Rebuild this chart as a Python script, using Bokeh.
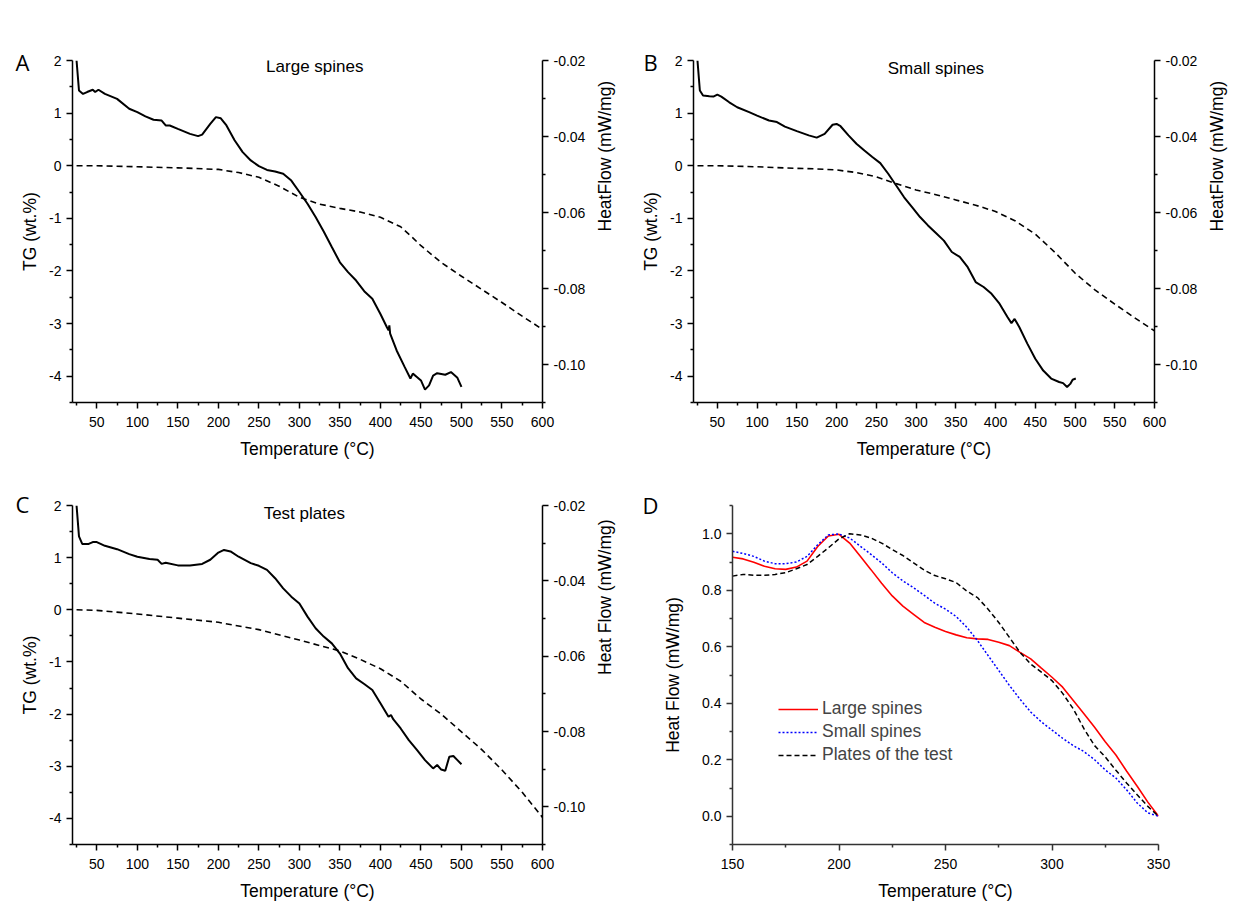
import math
from bokeh.plotting import figure
from bokeh.models import Range1d, LinearAxis, FixedTicker, PrintfTickFormatter, Label, Legend, LegendItem
from bokeh.layouts import row, column
from bokeh.embed import file_html
from bokeh.resources import INLINE

FONT = "Liberation Sans"

# ---------------- Data ----------------
# Panel A - Large spines
A_HF_T = [25, 28, 33, 38, 45, 48, 52, 60, 75, 90, 100, 110, 120, 130, 135, 140, 150, 165, 175, 180,
          190, 197, 203, 210, 220, 230, 240, 250, 260, 270, 280, 290, 300, 310, 320, 330, 340, 350, 360, 370,
          380, 390, 400, 408, 410, 411, 412, 420, 430, 437, 440, 445, 450, 455, 460, 465, 470, 480, 487, 495, 500]
A_HF = [-0.0200, -0.0279, -0.0288, -0.0283, -0.0277, -0.0283, -0.0277, -0.0288, -0.0301, -0.0327,
        -0.0336, -0.0347, -0.0356, -0.0358, -0.0371, -0.0371, -0.0380, -0.0393, -0.0399, -0.0395,
        -0.0367, -0.0349, -0.0352, -0.0371, -0.0410, -0.0441, -0.0463, -0.0478, -0.0488, -0.0492,
        -0.0498, -0.0516, -0.0546, -0.0577, -0.0612, -0.0650, -0.0691, -0.0731, -0.0757, -0.0779,
        -0.0807, -0.0827, -0.0867, -0.0902, -0.0910, -0.0897, -0.0919, -0.0963, -0.1007, -0.1037,
        -0.1024, -0.1033, -0.1042, -0.1066, -0.1055, -0.1029, -0.1023, -0.1027, -0.1020, -0.1035, -0.1059]
A_TG_T = [25, 50, 100, 150, 200, 225, 250, 275, 300, 325, 350, 375, 400, 425, 440, 450, 475, 500, 525, 550, 575, 600]
A_TG = [0.0, 0.0, -0.02, -0.04, -0.07, -0.13, -0.22, -0.39, -0.6, -0.73, -0.81, -0.88, -0.98, -1.16, -1.37, -1.52,
        -1.84, -2.1, -2.35, -2.6, -2.86, -3.11]

# Panel B - Small spines
B_HF_T = [25, 28, 32, 40, 45, 50, 55, 65, 75, 90, 100, 115, 125, 135, 150, 165, 175, 185, 195, 200,
          205, 215, 225, 235, 245, 255, 265, 275, 285, 295, 305, 315, 325, 335, 345, 355, 365, 375, 385, 395,
          405, 415, 420, 424, 430, 440, 450, 460, 470, 480, 485, 490, 494, 497, 501]
B_HF = [-0.0200, -0.0279, -0.0292, -0.0294, -0.0295, -0.0290, -0.0295, -0.0310, -0.0323, -0.0336,
        -0.0345, -0.0358, -0.0362, -0.0374, -0.0386, -0.0397, -0.0403, -0.0393, -0.0369, -0.0367,
        -0.0373, -0.0397, -0.0419, -0.0437, -0.0454, -0.0470, -0.0498, -0.0529, -0.0560, -0.0586,
        -0.0612, -0.0634, -0.0654, -0.0674, -0.0704, -0.0717, -0.0744, -0.0783, -0.0796, -0.0814,
        -0.0840, -0.0875, -0.0891, -0.0880, -0.0902, -0.0945, -0.0985, -0.1016, -0.1037, -0.1046,
        -0.1049, -0.1059, -0.1051, -0.1040, -0.1037]
B_TG_T = [25, 50, 100, 150, 175, 200, 225, 250, 275, 300, 325, 350, 375, 400, 425, 450, 475, 500, 525, 550, 575, 600]
B_TG = [0.0, 0.0, -0.02, -0.05, -0.06, -0.08, -0.13, -0.21, -0.34, -0.46, -0.55, -0.65, -0.75, -0.87, -1.05,
        -1.3, -1.65, -2.04, -2.36, -2.63, -2.89, -3.14]

# Panel C - Test plates
C_HF_T = [25, 28, 32, 40, 45, 50, 60, 75, 90, 100, 115, 125, 130, 135, 150, 165, 180, 190, 200, 207,
          215, 225, 240, 250, 260, 270, 280, 290, 300, 310, 320, 330, 340, 350, 360, 370, 380, 390, 400, 410,
          413, 416, 425, 435, 445, 455, 465, 470, 475, 480, 485, 490, 495, 500]
C_HF = [-0.0200, -0.0282, -0.0302, -0.0302, -0.0297, -0.0297, -0.0307, -0.0316, -0.0329, -0.0336,
        -0.0342, -0.0344, -0.0355, -0.0352, -0.0359, -0.0359, -0.0355, -0.0344, -0.0325, -0.0318,
        -0.0322, -0.0336, -0.0353, -0.0360, -0.0371, -0.0393, -0.0420, -0.0442, -0.0460, -0.0495,
        -0.0526, -0.0548, -0.0566, -0.0593, -0.0632, -0.0659, -0.0674, -0.0690, -0.0725, -0.0761,
        -0.0756, -0.0768, -0.0792, -0.0823, -0.0849, -0.0876, -0.0898, -0.0889, -0.0901, -0.0904,
        -0.0867, -0.0865, -0.0876, -0.0887]
C_TG_T = [25, 50, 100, 150, 200, 250, 300, 350, 375, 400, 425, 450, 475, 500, 525, 550, 575, 600]
C_TG = [0.0, -0.01, -0.08, -0.16, -0.24, -0.38, -0.58, -0.79, -0.95, -1.13, -1.37, -1.71, -2.0, -2.34, -2.68,
        -3.07, -3.5, -3.98]

# Panel D - normalised heat flow
D_T = [150, 155, 160, 165, 170, 175, 180, 185, 190, 195, 200, 205, 210, 215, 220, 225, 230, 235, 240, 245,
       250, 255, 260, 265, 270, 275, 280, 285, 290, 295, 300, 305, 310, 315, 320, 325, 330, 335, 340, 345, 350]
D_LARGE = [0.917, 0.911, 0.899, 0.885, 0.876, 0.874, 0.882, 0.903, 0.955, 0.992, 0.998, 0.967, 0.92, 0.873,
           0.825, 0.78, 0.744, 0.715, 0.686, 0.669, 0.654, 0.642, 0.632, 0.628, 0.626, 0.616, 0.604, 0.58,
           0.557, 0.524, 0.492, 0.457, 0.41, 0.363, 0.315, 0.264, 0.217, 0.16, 0.106, 0.05, 0.0]
D_SMALL = [0.938, 0.93, 0.92, 0.903, 0.894, 0.894, 0.9, 0.92, 0.961, 0.996, 0.999, 0.985, 0.956, 0.927,
           0.897, 0.862, 0.833, 0.809, 0.782, 0.754, 0.733, 0.707, 0.669, 0.622, 0.569, 0.516, 0.463, 0.414,
           0.369, 0.334, 0.305, 0.276, 0.25, 0.229, 0.2, 0.164, 0.135, 0.094, 0.047, 0.012, 0.0]
D_PLATES = [0.85, 0.856, 0.853, 0.853, 0.856, 0.862, 0.876, 0.891, 0.92, 0.95, 0.982, 1.0, 0.996, 0.985,
            0.967, 0.944, 0.923, 0.897, 0.871, 0.852, 0.841, 0.827, 0.797, 0.774, 0.733, 0.686, 0.633, 0.58,
            0.539, 0.51, 0.48, 0.435, 0.38, 0.31, 0.25, 0.21, 0.163, 0.118, 0.076, 0.035, 0.0]

X_TICKS = [50, 100, 150, 200, 250, 300, 350, 400, 450, 500, 550, 600]
X_MINOR = [25, 75, 125, 175, 225, 275, 325, 375, 425, 475, 525, 575]
TG_TICKS = [2, 1, 0, -1, -2, -3, -4]
TG_MINOR = [1.5, 0.5, -0.5, -1.5, -2.5, -3.5, -4.5]
HF_TICKS = [-0.02, -0.04, -0.06, -0.08, -0.10]
HF_MINOR = [-0.03, -0.05, -0.07, -0.09, -0.11]
D_X_TICKS = [150, 200, 250, 300, 350]
D_X_MINOR = [175, 225, 275, 325]
D_Y_TICKS = [0.0, 0.2, 0.4, 0.6, 0.8, 1.0]
D_Y_MINOR = [-0.1, 0.1, 0.3, 0.5, 0.7, 0.9, 1.1]


def style_axis(ax, ticks, minor, fmt, label, color="black", lab_standoff=5, ax_standoff=10):
    ax.ticker = FixedTicker(ticks=ticks, minor_ticks=minor)
    ax.formatter = PrintfTickFormatter(format=fmt)
    ax.axis_label = label
    ax.major_tick_in = 0
    ax.major_tick_out = 6
    ax.minor_tick_in = 0
    ax.minor_tick_out = 3
    ax.axis_line_color = color
    ax.major_tick_line_color = color
    ax.minor_tick_line_color = color
    ax.axis_line_width = 1.5
    ax.major_tick_line_width = 1.5
    ax.minor_tick_line_width = 1.5
    ax.major_label_text_font = FONT
    ax.major_label_text_font_size = "14px"
    ax.major_label_text_color = "black"
    ax.major_label_standoff = lab_standoff
    ax.axis_label_text_font = FONT
    ax.axis_label_text_font_size = "17.5px"
    ax.axis_label_text_font_style = "normal"
    ax.axis_label_text_color = "black"
    ax.axis_label_standoff = ax_standoff


def base_fig(width, height, xr, yr, ml, mr, mt, mb, letter, l_off, l_stand):
    p = figure(width=width, height=height, x_range=Range1d(*xr), y_range=Range1d(*yr),
               output_backend="svg", toolbar_location=None, tools="",
               min_border_left=ml, min_border_right=mr, min_border_top=mt, min_border_bottom=mb)
    p.outline_line_color = None
    p.xgrid.visible = False
    p.ygrid.visible = False
    p.background_fill_color = "white"
    p.border_fill_color = "white"
    # panel letter as the figure title, pushed left of the frame
    p.title.text = letter
    p.title.align = "left"
    p.title.offset = l_off
    p.title.standoff = l_stand
    p.title.text_font = "Open Sans"
    p.title.text_font_size = "22px"
    p.title.text_font_style = "normal"
    p.title.text_color = "black"
    return p


def tg_panel(letter, l_off, l_stand, title, tx, ty, hf_t, hf, tg_t, tg, right_label,
             width, ml, mr, mt, mb, height):
    p = base_fig(width, height, (20, 600), (-4.5, 2), ml, mr, mt, mb, letter, l_off, l_stand)
    p.extra_y_ranges = {"hf": Range1d(-0.11, -0.02)}
    style_axis(p.xaxis[0], X_TICKS, X_MINOR, "%d", "Temperature (\u00b0C)", lab_standoff=8, ax_standoff=9)
    style_axis(p.yaxis[0], TG_TICKS, TG_MINOR, "%d", "TG (wt.%)", lab_standoff=5, ax_standoff=6)
    ra = LinearAxis(y_range_name="hf")
    style_axis(ra, HF_TICKS, HF_MINOR, "%.2f", right_label, lab_standoff=5, ax_standoff=17)
    ra.axis_label_orientation = math.pi / 2
    p.add_layout(ra, "right")
    p.line(tg_t, tg, line_color="black", line_width=1.6, line_dash="6 4")
    p.line(hf_t, hf, line_color="black", line_width=2, y_range_name="hf")
    p.add_layout(Label(x=tx, y=ty, text=title, text_font=FONT, text_font_size="17px",
                       text_align="center", text_baseline="middle", text_color="black"))
    return p


pA = tg_panel("A", -57, -32, "Large spines", 319, 1.89, A_HF_T, A_HF, A_TG_T, A_TG, "HeatFlow (mW/mg)",
              629, 72, 87, 60, 68, 470)
pB = tg_panel("B", -50, -32, "Small spines", 325, 1.85, B_HF_T, B_HF, B_TG_T, B_TG, "HeatFlow (mW/mg)",
              611, 64, 77, 60, 68, 470)
pC = tg_panel("C", -57, -27, "Test plates", 306, 1.85, C_HF_T, C_HF, C_TG_T, C_TG, "Heat Flow (mW/mg)",
              629, 72, 87, 35, 66, 440)

# Panel D
pD = base_fig(604, 440, (150, 350), (-0.1, 1.1), 103, 75, 33, 66, "D", -90, -29)
style_axis(pD.xaxis[0], D_X_TICKS, D_X_MINOR, "%d", "Temperature (\u00b0C)", color="#333333",
           lab_standoff=8, ax_standoff=9)
style_axis(pD.yaxis[0], D_Y_TICKS, D_Y_MINOR, "%.1f", "Heat Flow (mW/mg)", color="#333333",
           lab_standoff=5, ax_standoff=16)
r1 = pD.line(D_T, D_LARGE, line_color="#ff0000", line_width=1.6)
r2 = pD.line(D_T, D_SMALL, line_color="#0000ff", line_width=1.5, line_dash="2 2")
r3 = pD.line(D_T, D_PLATES, line_color="black", line_width=1.5, line_dash="5 3")
leg = Legend(items=[LegendItem(label="Large spines", renderers=[r1]),
                    LegendItem(label="Small spines", renderers=[r2]),
                    LegendItem(label="Plates of the test", renderers=[r3])],
             location=(46, 79), padding=0, margin=0, spacing=2, glyph_width=40, glyph_height=20,
             label_height=20, label_standoff=4, label_text_font=FONT, label_text_font_size="17.5px",
             border_line_alpha=0, background_fill_alpha=0)
pD.add_layout(leg)

layout = column(row(pA, pB), row(pC, pD))
open("out.html", "w").write(file_html(layout, INLINE))
